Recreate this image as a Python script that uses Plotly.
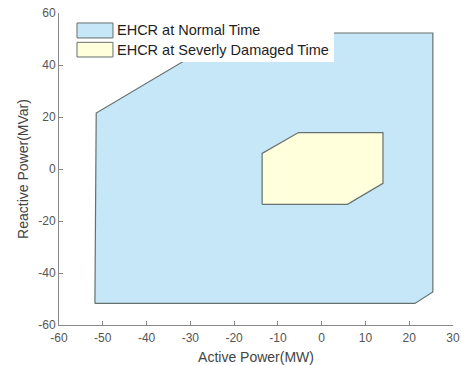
import plotly.graph_objects as go

# Data
normal_p = [-51.8, -51.5, -20.7, 25.4, 25.4, 21.3, -51.8]
normal_q = [-51.7, 21.5, 52.3, 52.3, -47.3, -51.7, -51.7]

damaged_p = [-13.6, -13.6, -5.3, 14.0, 14.0, 5.9, -13.6]
damaged_q = [-13.6, 6.0, 14.0, 14.0, -5.5, -13.6, -13.6]

series_names = ["EHCR at Normal Time", "EHCR at Severly Damaged Time"]
fill_colors = ["#c5e7f7", "#ffffdc"]
edge_color = "#66706f"

x_ticks = [-60, -50, -40, -30, -20, -10, 0, 10, 20, 30]
x_ticklabels = ["-60", "-50", "-40", "-30", "-20", "-10", "0", "10", "20", "30"]
y_ticks = [-60, -40, -20, 0, 20, 40, 60]
y_ticklabels = ["-60", "-40", "-20", "0", "20", "40", "60"]

FONT = "Liberation Sans, Arial, sans-serif"

fig = go.Figure()
for p, q, name, col in [(normal_p, normal_q, series_names[0], fill_colors[0]),
                        (damaged_p, damaged_q, series_names[1], fill_colors[1])]:
    fig.add_trace(go.Scatter(x=p, y=q, fill="toself", fillcolor=col, mode="lines",
                             line=dict(color=edge_color, width=1.2), name=name,
                             showlegend=False, hoverinfo="skip"))

# Manual legend (MATLAB style)
shapes = [dict(type="rect", xref="paper", yref="paper", x0=0.018, x1=0.698, y0=0.843, y1=0.992,
               fillcolor="white", line=dict(width=0), layer="above")]
annotations = []
patch_y = [(0.920, 0.968), (0.859, 0.906)]
for (y0, y1), name, col in zip(patch_y, series_names, fill_colors):
    shapes.append(dict(type="rect", xref="paper", yref="paper", x0=0.0457, x1=0.137, y0=y0, y1=y1,
                       fillcolor=col, line=dict(color=edge_color, width=1), layer="above"))
    annotations.append(dict(xref="paper", yref="paper", x=0.142, y=(y0 + y1) / 2, text=name,
                            showarrow=False, xanchor="left", yanchor="middle",
                            font=dict(family=FONT, size=14.5, color="#1e1e1e")))

fig.update_layout(
    width=461, height=365,
    margin=dict(l=59, r=8, t=13, b=40),
    paper_bgcolor="white", plot_bgcolor="white",
    shapes=shapes, annotations=annotations,
    font=dict(family=FONT, color="#555555"),
    xaxis=dict(range=[-60, 30], tickvals=x_ticks, ticktext=x_ticklabels, ticks="inside", ticklen=4,
               tickcolor="#888888", automargin=False, ticklabelstandoff=2,
               showline=True, linecolor="#888888", linewidth=1, showgrid=False, zeroline=False,
               tickfont=dict(size=12, color="#555555"),
               title=dict(text="Active Power(MW)", font=dict(size=14, color="#444444"), standoff=8)),
    yaxis=dict(range=[-60, 60], tickvals=y_ticks, ticktext=y_ticklabels, ticks="inside", ticklen=4,
               tickcolor="#888888", automargin=False,
               showline=True, linecolor="#888888", linewidth=1, showgrid=False, zeroline=False,
               tickfont=dict(size=12, color="#555555"),
               title=dict(text="Reactive Power(MVar)", font=dict(size=14, color="#444444"), standoff=6)),
)

fig.write_html("out.html")
